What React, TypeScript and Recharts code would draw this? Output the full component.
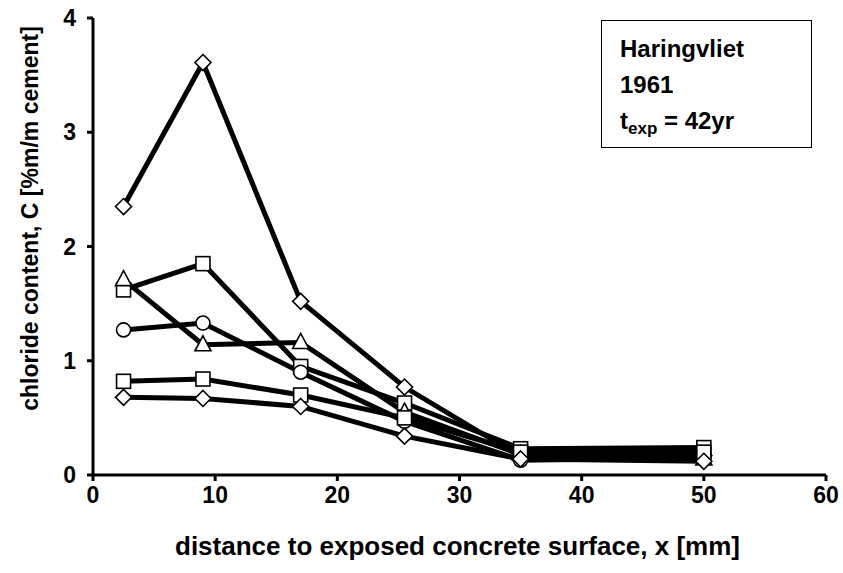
import React from "react";
import { LineChart, Line, XAxis, YAxis } from "recharts";

// Sampling depths (mm) and chloride profiles (% by mass of cement)
const depths = [2.5, 9, 17, 25.5, 35, 50];
const profileA = [2.35, 3.61, 1.52, 0.77, 0.16, 0.17]; // diamonds, highest
const profileB = [1.62, 1.85, 0.95, 0.63, 0.23, 0.24]; // squares, upper
const profileC = [1.71, 1.14, 1.16, 0.55, 0.18, 0.14]; // triangles
const profileD = [1.27, 1.33, 0.9, 0.47, 0.13, 0.15]; // circles
const profileE = [0.82, 0.84, 0.7, 0.5, 0.2, 0.2]; // squares, lower
const profileF = [0.68, 0.67, 0.6, 0.34, 0.14, 0.12]; // diamonds, lowest

const xTicks = [0, 10, 20, 30, 40, 50, 60];
const yTicks = [0, 1, 2, 3, 4];

const xTitle = "distance to exposed concrete surface, x [mm]";
const yTitle = "chloride content, C [%m/m cement]";

const series = [
  { key: "a", values: profileA, shape: "diamond" },
  { key: "b", values: profileB, shape: "square" },
  { key: "c", values: profileC, shape: "triangle" },
  { key: "d", values: profileD, shape: "circle" },
  { key: "e", values: profileE, shape: "square" },
  { key: "f", values: profileF, shape: "diamond" },
];

const rows = depths.map((x, i) => {
  const r: Record<string, number> = { x };
  series.forEach((s) => (r[s.key] = s.values[i]));
  return r;
});

const FONT = "'Liberation Sans', Arial, sans-serif";

const makeDot = (shape: string) => (props: any) => {
  const { cx, cy, index } = props;
  if (cx == null || cy == null) return <g key={index} />;
  const common = { fill: "#fff", stroke: "#000", strokeWidth: 1.6 };
  if (shape === "diamond") {
    const h = 8;
    return (
      <path
        key={index}
        d={`M${cx},${cy - h}L${cx + h},${cy}L${cx},${cy + h}L${cx - h},${cy}Z`}
        {...common}
      />
    );
  }
  if (shape === "square") {
    const h = 7;
    return <rect key={index} x={cx - h} y={cy - h} width={2 * h} height={2 * h} {...common} />;
  }
  if (shape === "triangle") {
    return (
      <path
        key={index}
        d={`M${cx},${cy - 9}L${cx + 8},${cy + 6}L${cx - 8},${cy + 6}Z`}
        {...common}
      />
    );
  }
  return <circle key={index} cx={cx} cy={cy} r={7} {...common} />;
};

const tickStyle = { fontSize: 23, fontWeight: 700, fill: "#000", fontFamily: FONT };

export default function App() {
  return (
    <div
      style={{
        position: "absolute",
        left: 0,
        top: 0,
        width: 843,
        height: 573,
        background: "#fff",
      }}
    >
      <LineChart
        width={843}
        height={573}
        data={rows}
        margin={{ top: 18, right: 17, bottom: 38, left: 0 }}
      >
        <XAxis
          dataKey="x"
          type="number"
          domain={[0, 60]}
          ticks={xTicks}
          interval={0}
          height={60}
          tickSize={6}
          tickMargin={6}
          axisLine={{ stroke: "#000", strokeWidth: 3 }}
          tickLine={{ stroke: "#000", strokeWidth: 3 }}
          tick={tickStyle}
          label={(p: any) => {
            const vb = p.viewBox;
            return (
              <text
                x={vb.x + vb.width / 2 - 2}
                y={vb.y + 80}
                textAnchor="middle"
                fontSize={26}
                fontWeight={700}
                fontFamily={FONT}
                fill="#000"
              >
                {xTitle}
              </text>
            );
          }}
        />
        <YAxis
          type="number"
          domain={[0, 4]}
          ticks={yTicks}
          interval={0}
          width={93}
          tickSize={6}
          tickMargin={11}
          axisLine={{ stroke: "#000", strokeWidth: 3 }}
          tickLine={{ stroke: "#000", strokeWidth: 3 }}
          tick={tickStyle}
          label={(p: any) => {
            const vb = p.viewBox;
            const cx = vb.x + 30;
            const cy = vb.y + vb.height / 2 - 28;
            return (
              <text
                x={cx}
                y={cy}
                transform={`rotate(-90 ${cx} ${cy})`}
                textAnchor="middle"
                dominantBaseline="central"
                fontSize={23}
                fontWeight={700}
                fontFamily={FONT}
                fill="#000"
              >
                {yTitle}
              </text>
            );
          }}
        />
        {series.map((s) => (
          <Line
            key={s.key}
            dataKey={s.key}
            stroke="#000"
            strokeWidth={5}
            dot={makeDot(s.shape)}
            activeDot={false}
            isAnimationActive={false}
          />
        ))}
      </LineChart>
      <div
        style={{
          position: "absolute",
          left: 601,
          top: 20,
          width: 211,
          height: 128,
          border: "1.5px solid #000",
          background: "#fff",
          fontFamily: FONT,
          fontWeight: 700,
          fontSize: 24,
          color: "#000",
          boxSizing: "border-box",
          paddingLeft: 18,
          paddingTop: 10,
          lineHeight: "36px",
        }}
      >
        <div>Haringvliet</div>
        <div>1961</div>
        <div>
          t<sub style={{ fontSize: 17, verticalAlign: "-5px", lineHeight: 0 }}>exp</sub> = 42yr
        </div>
      </div>
    </div>
  );
}
